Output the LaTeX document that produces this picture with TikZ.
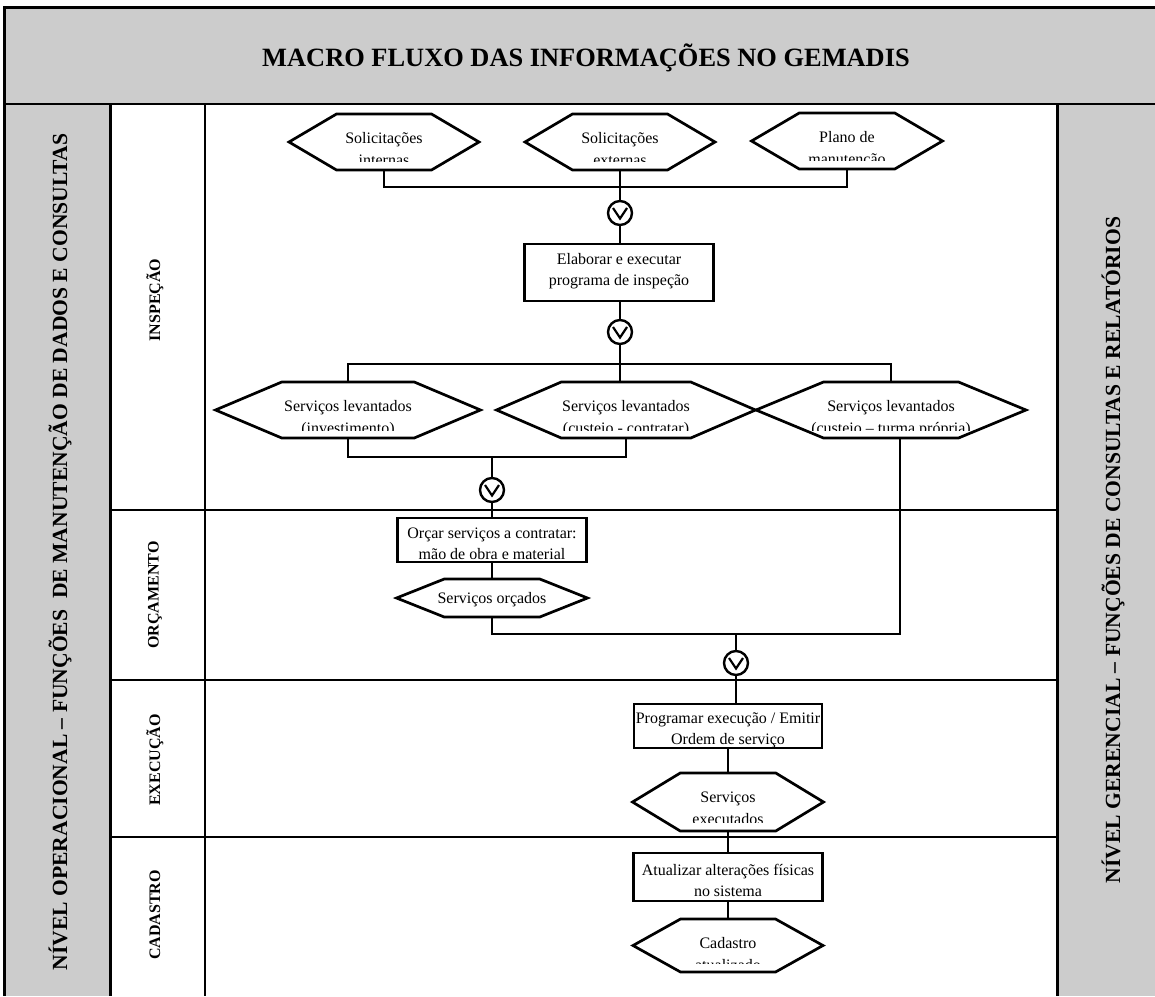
\documentclass[tikz,border=0pt]{standalone}
\usepackage{fontspec}
\setmainfont{Liberation Serif}
\usepackage{tikz}

\definecolor{panelgrey}{RGB}{204,204,204}

% hexagono: nome, x, y, largura, altura, 1a linha de base, corte do texto, texto
\newcommand{\hexa}[8]{%
  \node[hexbox, minimum width=#4pt, minimum height=#5pt] (#1) at (#2,#3) {};
  \draw[flow] (#1.west) -- ([xshift=#4pt/4]#1.north west) -- ([xshift=-#4pt/4]#1.north east)
    -- (#1.east) -- ([xshift=-#4pt/4]#1.south east) -- ([xshift=#4pt/4]#1.south west) -- cycle;
  \begin{scope}
    \clip (#2-#4/2,#3-#5/2) rectangle (#2+#4/2,#7);
    \node[hextxt] (#1-txt) at (#2,#6-15.4) {\strut #8};
  \end{scope}}

% caixa de tarefa: nome, x, y, largura, altura, 1a linha de base, texto
\newcommand{\tarefa}[7]{%
  \node[taskbox, minimum width=#4pt, minimum height=#5pt] (#1) at (#2,#3) {};
  \begin{scope}
    \clip (#1.north west) rectangle (#1.south east);
    \node[boxtxt] (#1-txt) at (#2,#6-14.7) {\strut #7};
  \end{scope}}

\begin{document}
\begin{tikzpicture}[x=1pt,y=-1pt,
  flow/.style={line width=2.7pt},
  grid/.style={line width=2pt},
  frame/.style={line width=3pt},
  hexbox/.style={inner sep=0pt, outer sep=0pt},
  taskbox/.style={draw, line width=2.7pt, inner sep=0pt, outer sep=0pt},
  hextxt/.style={font=\fontsize{16}{22}\selectfont, align=center, inner sep=0pt, anchor=north},
  boxtxt/.style={font=\fontsize{16}{21}\selectfont, align=center, inner sep=0pt, anchor=north},
  orgate/.style={circle, draw, fill=white, line width=2.4pt, minimum size=24pt, inner sep=0pt},
  titulo/.style={font=\fontsize{26.4}{30}\selectfont\bfseries, anchor=base, inner sep=0pt},
  nivel/.style={font=\fontsize{21.6}{24}\selectfont\bfseries, rotate=90, inner sep=0pt},
  fase/.style={font=\fontsize{16}{18}\selectfont\bfseries, rotate=90, inner sep=0pt}]
\useasboundingbox (0,0) rectangle (1155,996);

% quadro
\fill[panelgrey] (3,7) rectangle (1155,104);
\fill[panelgrey] (3,104) rectangle (110,996);
\fill[panelgrey] (1057,104) rectangle (1155,996);
\draw[frame] (1155,7) -- (4,7) -- (4,996);
\draw[grid] (3,104) -- (1155,104);
\draw[frame] (110,104) -- (110,996);
\draw[grid] (205,104) -- (205,996);
\draw[frame] (1057,104) -- (1057,996);
\foreach \y in {510,680,837}
  \draw[grid] (110,\y) -- (1057,\y);

\node[titulo] (titulo) at (586,66) {MACRO FLUXO DAS INFORMAÇÕES NO GEMADIS};
\node[nivel] (operacional) at (60,552) {NÍVEL OPERACIONAL – FUNÇÕES~ DE MANUTENÇÃO DE DADOS E CONSULTAS};
\node[nivel] (gerencial) at (1113,550) {NÍVEL GERENCIAL – FUNÇÕES DE CONSULTAS E RELATÓRIOS};
\node[fase] (inspecao) at (155,300) {INSPEÇÃO};
\node[fase] (orcamento) at (155,595) {ORÇAMENTO};
\node[fase] (execucao) at (155,760) {EXECUÇÃO};
\node[fase] (cadastro) at (155,915) {CADASTRO};

% inspecao
\hexa{solint}{384}{142}{190}{56}{143}{161}{Solicitações\\internas}
\hexa{solext}{620}{142}{190}{56}{143}{161}{Solicitações\\externas}
\hexa{plano}{847}{141}{191}{56}{142.5}{160}{Plano de\\manutenção}
\tarefa{elab}{619}{272.5}{189}{57}{264}{Elaborar e executar\\programa de inspeção}
\hexa{inv}{348}{410}{265}{56}{411}{430}{Serviços levantados\\(investimento)}
\hexa{cont}{626}{410}{259}{56}{411}{430}{Serviços levantados\\(custeio - contratar)}
\hexa{turma}{891}{410}{270}{56}{411}{430}{Serviços levantados\\(custeio – turma própria)}

% orcamento
\tarefa{orcar}{492}{540}{189}{44}{538.5}{Orçar serviços a contratar:\\mão de obra e material}
\hexa{orcados}{492}{598}{191}{38}{603}{617}{Serviços orçados}

% execucao e cadastro
\tarefa{prog}{728}{726}{188}{44}{723}{Programar execução / Emitir\\Ordem de serviço}
\hexa{exec}{728}{802}{191}{58}{802}{822}{Serviços\\executados}
\tarefa{atual}{728}{877}{189}{48}{875.5}{Atualizar alterações físicas\\no sistema}
\hexa{cad}{728}{945.5}{190}{53}{948}{963}{Cadastro\\atualizado}

% ligacoes
\coordinate (bus1) at (620,187);
\coordinate (bus2) at (620,364);
\coordinate (bus3) at (492,457);
\coordinate (bus4) at (736,634);
\node[orgate] (or1) at (620,213) {};
\node[orgate] (or2) at (620,332) {};
\node[orgate] (or3) at (492,490) {};
\node[orgate] (or4) at (736,663) {};

\draw[flow] (solint.south) |- (bus1) -| (plano.south);
\draw[flow] (solext) -- (or1);
\draw[flow] (or1) -- (or1 |- elab.north);
\draw[flow] (or2 |- elab.south) -- (or2);
\draw[flow] (inv.north) |- (bus2) -| (turma.north);
\draw[flow] (or2) -- (or2 |- cont.north);
\draw[flow] (inv.south) |- (bus3) -| (cont.south);
\draw[flow] (bus3) -- (or3);
\draw[flow] (or3) -- (orcar);
\draw[flow] (orcar) -- (orcados);
\draw[flow] (orcados.south) |- (bus4) -| ([xshift=9pt]turma.south);
\draw[flow] (bus4) -- (or4);
\draw[flow] (or4) -- (or4 |- prog.north);
\draw[flow] (prog) -- (exec);
\draw[flow] (exec) -- (atual);
\draw[flow] (atual) -- (cad);

\foreach \g in {or1,or2,or3,or4}
  \draw[flow, line width=2.2pt] ([shift={(-7pt,5pt)}]\g.center) -- ([yshift=-5.5pt]\g.center) -- ([shift={(7pt,5pt)}]\g.center);
\end{tikzpicture}
\end{document}
